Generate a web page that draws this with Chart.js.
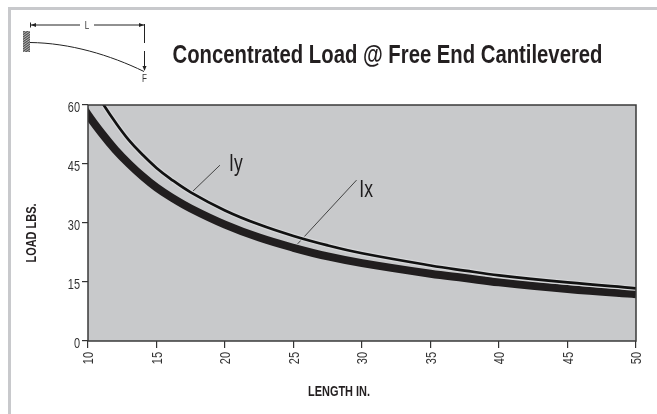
<!DOCTYPE html>
<html><head><meta charset="utf-8">
<style>
html,body{margin:0;padding:0;background:#fff;width:657px;height:414px;overflow:hidden}
#wrap{position:absolute;left:0;top:0;width:657px;height:414px}
#frame{position:absolute;left:8px;top:7px;width:649px;height:407px;border-left:3px solid #c8c9cc;border-top:3px solid #c8c9cc;box-sizing:border-box}
canvas{position:absolute;left:0;top:0}
</style>
<script src="https://cdn.jsdelivr.net/npm/chart.js@4"></script>
</head><body>
<div id="wrap"><div id="frame"></div><canvas id="c" width="657" height="414"></canvas></div>
<script>
const chartTitle = "Concentrated Load @ Free End Cantilevered";
const xTitle = "LENGTH IN.";
const yTitle = "LOAD LBS.";
const ixLength = [9,10,11,12,13,14,15,16,17.5,20,22.5,25,27.5,30,35,37.5,40,45,50,51];
const ixLoad = [63,57.5,52.8,48.6,45,41.8,39,36.7,33.7,29.6,26.3,23.7,21.5,19.8,17.1,16,14.9,13.2,11.9,11.7];
const iyLength = [10,11,12,13,14,15,16,17.5,20,22.5,25,27.5,30,35,37.5,40,45,50,51];
const iyLoad = [66.5,60.8,55.6,51,47.3,44,41.3,37.8,33.2,29.6,26.7,24.3,22.3,19.2,17.9,16.7,14.9,13.4,13.1];
const iyLeaderX = [17.66,19.63];
const iyLeaderY = [38.1,44.7];
const ixLeaderX = [25.3,29.6];
const ixLeaderY = [24.7,40.9];
const xTicks = [10,15,20,25,30,35,40,45,50];
const yTicks = [0,15,30,45,60];
const labels = [{text:"Iy",x:20.3,y:45},{text:"Ix",x:29.8,y:38.2}];
const FONT = '"Liberation Sans",sans-serif';
const pts = (xs,ys)=>xs.map((x,i)=>({x,y:ys[i]}));

const canvas = document.getElementById('c');
const c2d = canvas.getContext('2d');
const rawFill = c2d.fillText.bind(c2d);
// the installed fonts have no condensed cut, so text is narrowed along its own baseline
c2d.fillText = function(text,x,y,maxW){
  const size = parseFloat((c2d.font.match(/([\d.]+)px/)||[0,15])[1]);
  const sx = size>=26 ? 0.78 : 0.73;
  c2d.save(); c2d.translate(x,y); c2d.scale(sx,1);
  rawFill(text,0,0);
  c2d.restore();
};

const decor = {
  id:'decor',
  afterLayout(chart){
    const t = chart.titleBlock; t.left = 173; t.right = 602;
    const proto = Chart.Scale.prototype;
    chart.scales.x.drawTitle = function(){
      const l=this.left,r=this.right; this.left=l-23; this.right=r-23;
      proto.drawTitle.call(this); this.left=l; this.right=r;
    };
    chart.scales.y.drawTitle = function(){
      const a=this.top,b=this.bottom; this.top=a+10; this.bottom=b+10;
      proto.drawTitle.call(this); this.top=a; this.bottom=b;
    };
  },
  beforeDraw(chart){
    const {ctx,chartArea:a} = chart;
    ctx.save(); ctx.fillStyle='#c8c9cb';
    ctx.fillRect(a.left,a.top,a.right-a.left,a.bottom-a.top); ctx.restore();
  },
  afterDatasetsDraw(chart){
    const {ctx,chartArea:a,scales:{x,y}} = chart;
    ctx.save();
    ctx.strokeStyle='#3a3a3a'; ctx.lineWidth=1.5;
    ctx.strokeRect(a.left,a.top,a.right-a.left,a.bottom-a.top);
    ctx.fillStyle='#1e1c1d'; ctx.font='24px '+FONT; ctx.textAlign='left'; ctx.textBaseline='middle';
    labels.forEach(l=>ctx.fillText(l.text,x.getPixelForValue(l.x),y.getPixelForValue(l.y)));
    // cantilever inset
    ctx.strokeStyle='#222'; ctx.lineWidth=1;
    ctx.beginPath(); ctx.moveTo(30.5,22.5); ctx.lineTo(30.5,27.5);
    ctx.moveTo(31,25); ctx.lineTo(80,25); ctx.moveTo(94,25); ctx.lineTo(144,25);
    ctx.moveTo(144.5,24); ctx.lineTo(144.5,43); ctx.moveTo(144.5,51); ctx.lineTo(144.5,70);
    ctx.stroke();
    ctx.beginPath(); ctx.moveTo(30,42.5); ctx.bezierCurveTo(70,43,110,55,144,71.5); ctx.stroke();
    ctx.fillStyle='#222';
    ctx.beginPath(); ctx.moveTo(31,25); ctx.lineTo(36,23); ctx.lineTo(36,27); ctx.closePath(); ctx.fill();
    ctx.beginPath(); ctx.moveTo(144,25); ctx.lineTo(139,23); ctx.lineTo(139,27); ctx.closePath(); ctx.fill();
    ctx.beginPath(); ctx.moveTo(144.5,71); ctx.lineTo(142.5,66); ctx.lineTo(146.5,66); ctx.closePath(); ctx.fill();
    ctx.fillStyle='#555'; ctx.fillRect(23,31,7,21);
    ctx.save();
    ctx.beginPath(); ctx.rect(23,31,7,21); ctx.clip();
    ctx.strokeStyle='#ddd'; ctx.lineWidth=0.7;
    ctx.beginPath(); for(let k=0;k<14;k++){ctx.moveTo(23,31+k*2.4);ctx.lineTo(30,26+k*2.4);} ctx.stroke();
    ctx.restore();
    ctx.fillStyle='#333'; ctx.font='11px '+FONT; ctx.textAlign='center';
    ctx.fillText('L',87,25.5); ctx.fillText('F',144.5,79);
    ctx.restore();
  }
};

new Chart(canvas,{
  type:'scatter',
  data:{datasets:[
    {label:'Iy leader',data:pts(iyLeaderX,iyLeaderY),showLine:true,borderColor:'#333',borderWidth:0.9,pointRadius:0,order:4},
    {label:'Ix leader',data:pts(ixLeaderX,ixLeaderY),showLine:true,borderColor:'#333',borderWidth:0.9,pointRadius:0,order:4},
    {label:'Iy',data:pts(iyLength,iyLoad),showLine:true,borderColor:'#111',borderWidth:2.7,pointRadius:0,tension:0.4,order:1},
    {label:'Iy gap',data:pts(iyLength,iyLoad),showLine:true,borderColor:'#d6d7d9',borderWidth:5,pointRadius:0,tension:0.4,order:2},
    {label:'Ix',data:pts(ixLength,ixLoad),showLine:true,borderColor:'#211e1f',borderWidth:8,pointRadius:0,tension:0.4,order:3}
  ]},
  options:{
    responsive:false,animation:false,
    layout:{padding:{left:0,right:21,top:0,bottom:0}},
    plugins:{
      legend:{display:false},tooltip:{enabled:false},
      title:{display:true,text:chartTitle,color:'#231f20',font:{family:FONT,size:26,weight:'bold',lineHeight:'25px'},padding:{top:43,bottom:37}}
    },
    scales:{
      x:{type:'linear',min:10,max:50,afterFit(s){s.height=73;s.paddingLeft=0;s.paddingRight=0;},
        afterBuildTicks(s){s.ticks=xTicks.map(v=>({value:v}));},
        grid:{drawOnChartArea:false,drawTicks:true,tickLength:7,color:'#333',lineWidth:1.2},
        border:{display:false},
        ticks:{color:'#333',font:{family:FONT,size:15},minRotation:90,maxRotation:90,padding:4,labelOffset:1,autoSkip:false},
        title:{display:true,text:xTitle,color:'#231f20',font:{family:FONT,size:15,weight:'bold'},padding:{top:0,bottom:13}}
      },
      y:{min:0,max:60,afterFit(s){s.width=88;},
        afterBuildTicks(s){s.ticks=yTicks.map(v=>({value:v}));},
        grid:{drawOnChartArea:false,drawTicks:true,tickLength:6,color:'#333',lineWidth:1.2},
        border:{display:false},
        ticks:{color:'#333',font:{family:FONT,size:15},padding:2,labelOffset:3,autoSkip:false},
        title:{display:true,text:yTitle,color:'#231f20',font:{family:FONT,size:15,weight:'bold'},padding:{top:23,bottom:0}}
      }
    }
  },
  plugins:[decor]
});
</script>
</body></html>
